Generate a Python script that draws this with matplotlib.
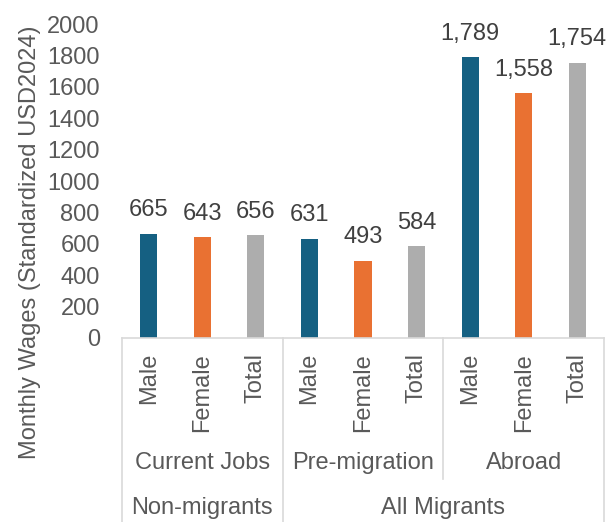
import matplotlib
matplotlib.use("Agg")
import matplotlib.pyplot as plt
from matplotlib.transforms import blended_transform_factory

plt.rcParams['font.family'] = ['Liberation Sans', 'DejaVu Sans']

# Data
genders = ["Male", "Female", "Total"] * 3
periods = ["Current Jobs", "Pre-migration", "Abroad"]
groups = ["Non-migrants", "All Migrants"]
values = [665, 643, 656, 631, 493, 584, 1789, 1558, 1754]
value_labels = ["665", "643", "656", "631", "493", "584", "1,789", "1,558", "1,754"]
colors = ["#156082", "#E97132", "#ADADAD"] * 3
yticks = [0, 200, 400, 600, 800, 1000, 1200, 1400, 1600, 1800, 2000]

TXT = "#595959"
LINE = "#D9D9D9"
FS = 17

W, H = 608, 522
fig = plt.figure(figsize=(W / 100, H / 100), dpi=100)
ax = fig.add_axes([122 / W, 1 - 338 / H, (604 - 122) / W, (338 - 24) / H])

x = list(range(len(values)))
ax.bar(x, values, width=0.32, color=colors, zorder=2)
ax.set_xlim(-0.5, len(values) - 0.5)
ax.set_ylim(0, 2000)
ax.set_yticks(yticks)
ax.set_yticklabels([str(t) for t in yticks], fontsize=FS, color=TXT)
ax.tick_params(axis='y', length=0, pad=16)
ax.set_xticks([])
for s in ["top", "right", "left"]:
    ax.spines[s].set_visible(False)
ax.spines["bottom"].set_color(LINE)
ax.spines["bottom"].set_linewidth(1.2)

for xi, v, lab in zip(x, values, value_labels):
    ax.annotate(lab, (xi, v), xytext=(0, 9), textcoords="offset points",
                ha="center", va="bottom", fontsize=FS, color="#404040")

def fy(py):
    return 1 - py / H

tr = blended_transform_factory(ax.transData, fig.transFigure)

# Category axis dividers
for xd, ybot in [(-0.5, 522), (2.5, 522), (5.5, 479), (8.5, 522)]:
    ax.plot([xd, xd], [fy(338), fy(ybot)], transform=tr, color=LINE, lw=1.2,
            clip_on=False)

# Level 1 labels (rotated)
for xi, g in zip(x, genders):
    ax.text(xi, fy(353), g, transform=tr, rotation=90, ha="center", va="top",
            fontsize=FS, color=TXT)

# Level 2 labels
for i, p in enumerate(periods):
    ax.text(3 * i + 1, fy(463), p, transform=tr, ha="center", va="center",
            fontsize=FS, color=TXT)

# Level 3 labels
ax.text(1, fy(508), groups[0], transform=tr, ha="center", va="center",
        fontsize=FS, color=TXT)
ax.text(5.5, fy(508), groups[1], transform=tr, ha="center", va="center",
        fontsize=FS, color=TXT)

fig.text(30 / W, fy(242), "Monthly Wages (Standardized USD2024)", rotation=90,
         ha="center", va="center", fontsize=FS, color=TXT)

fig.savefig("out.png", dpi=100)
